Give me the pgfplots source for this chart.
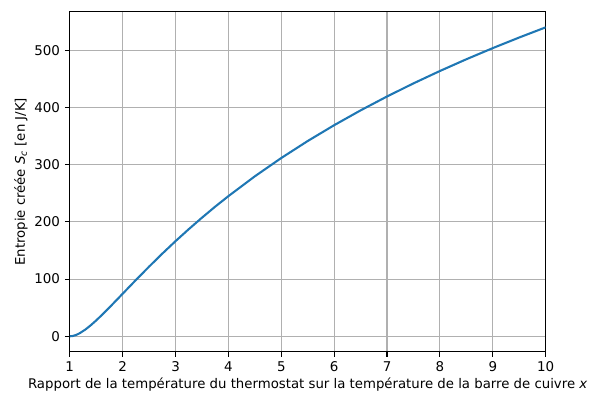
\documentclass[border=0pt]{standalone}
\usepackage{pgfplots}
\pgfplotsset{compat=1.18}
\usepackage{fontspec}
\setmainfont{DejaVu Sans}
\definecolor{mplblue}{HTML}{1F77B4}
\definecolor{mplgrid}{HTML}{B0B0B0}
\begin{document}
\begin{tikzpicture}
\begin{axis}[
  name=ax,
  scale only axis,
  width=343.8pt, height=245.5pt,
  xmin=1, xmax=10, ymin=-27, ymax=567,
  xtick={1,2,...,10},
  ytick={0,100,...,500},
  grid=major,
  major grid style={mplgrid, line width=0.8pt},
  axis line style={line width=0.8pt},
  tick align=outside,
  tick pos=left,
  major tick length=3.5pt,
  tick style={black, line width=0.8pt},
  /pgf/number format/assume math mode=true,
  ticklabel style={font=\fontsize{9.7}{11.6}\selectfont},
  label style={font=\fontsize{9.6}{11.5}\selectfont},
  xlabel={Rapport de la température du thermostat sur la température de la barre de cuivre \textit{x}},
  ylabel={Entropie créée \textit{S}\textsubscript{\textit{c}} [en J/K]},
  xlabel style={yshift=2pt},
  ylabel style={yshift=-2pt},
]
\addplot[mplblue, line width=1.5pt] coordinates {
(1,0) (1.05,0.451) (1.1,1.694) (1.15,3.58) (1.2,6.027) (1.3,12.16) (1.4,19.54) (1.5,27.77)
(1.6,36.58) (1.7,45.76) (1.8,55.19) (1.9,64.75) (2.0,74.36) (2.25,98.32)
(2.5,121.77) (2.75,144.47) (3,166.30) (3.25,187.2) (3.5,207.31) (3.75,226.6) (4,244.97)
(4.5,279.63) (5,311.63) (5.5,341.33) (6,368.99) (6.5,394.87) (7,419.18)
(7.5,442.07) (8,463.71) (8.5,484.22) (9,503.71) (9.5,522.27) (10,540.00)
};
\end{axis}
\path ([xshift=-50.4pt,yshift=-31.7pt]ax.south west) rectangle ([xshift=32.4pt,yshift=8.6pt]ax.north east);
\end{tikzpicture}
\end{document}
